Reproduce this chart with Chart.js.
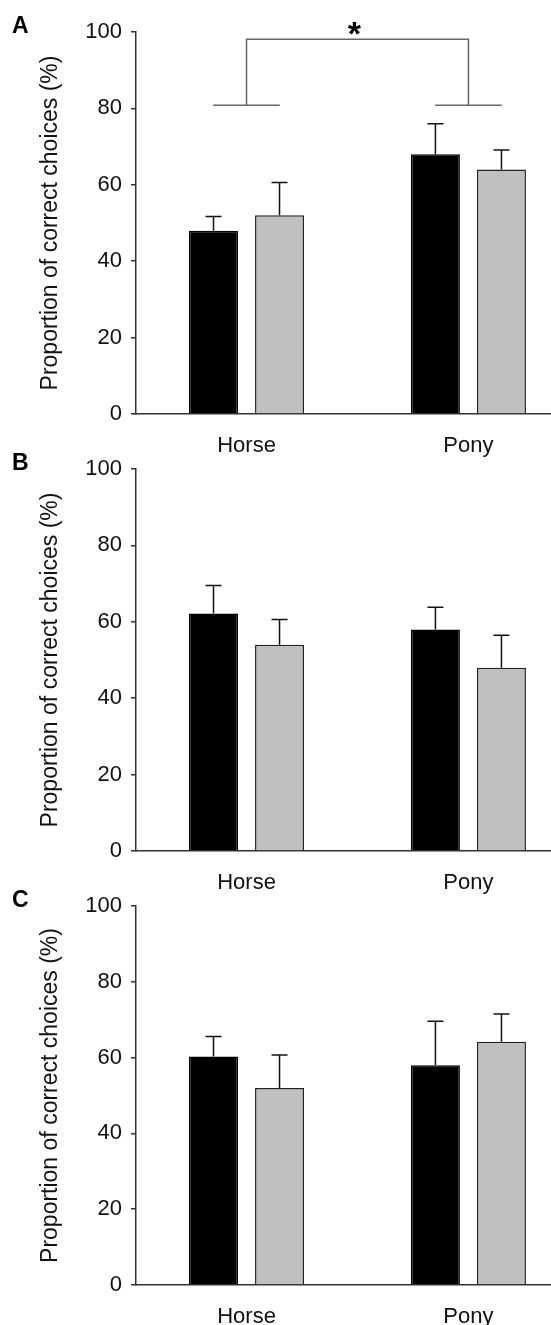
<!DOCTYPE html>
<html>
<head>
<meta charset="utf-8">
<script src="https://cdn.jsdelivr.net/npm/chart.js@4.4.1/dist/chart.umd.min.js"></script>
<style>
  html, body { margin: 0; padding: 0; background: #fff; }
  #wrap { position: relative; width: 551px; height: 1325px; overflow: hidden; }
  .panel { position: absolute; left: 0; width: 551px; }
  .letter { position: absolute; left: 12px; font: bold 23px/23px "Liberation Sans", Arial, sans-serif; color: #000; }
</style>
</head>
<body>
<div id="wrap">
  <div class="panel" style="top:0;height:470px"><canvas id="chartA"></canvas></div>
  <div class="panel" style="top:437px;height:470px"><canvas id="chartB"></canvas></div>
  <div class="panel" style="top:874px;height:451px"><canvas id="chartC"></canvas></div>
  <div class="letter" style="top:14px">A</div>
  <div class="letter" style="top:451px">B</div>
  <div class="letter" style="top:888px">C</div>
</div>
<script>
const categories = ['Horse', 'Pony'];
const yTitle = 'Proportion of correct choices (%)';

// panel A
const blackA = [48, 68];
const blackErrA = [3.7, 8.0];
const greyA = [52, 64];
const greyErrA = [8.6, 5.1];
// panel B
const blackB = [62.2, 58];
const blackErrB = [7.3, 5.8];
const greyB = [54, 48];
const greyErrB = [6.6, 8.5];
// panel C
const blackC = [60.3, 58];
const blackErrC = [5.3, 11.6];
const greyC = [52, 64.2];
const greyErrC = [8.7, 7.3];

// significance bracket in A: foot level, top level
const sigLevels = [80.8, 98.1];
const sigLabel = '*';

const FONT = '"Liberation Sans", Arial, sans-serif';

const errorBars = {
  id: 'errorBars',
  afterDatasetsDraw(chart) {
    const ctx = chart.ctx, y = chart.scales.y;
    ctx.save();
    ctx.strokeStyle = '#111';
    ctx.lineWidth = 1.5;
    chart.data.datasets.forEach((ds, di) => {
      chart.getDatasetMeta(di).data.forEach((bar, i) => {
        const top = y.getPixelForValue(ds.data[i].y + ds.errors[i]);
        ctx.beginPath();
        ctx.moveTo(bar.x, bar.y);
        ctx.lineTo(bar.x, top);
        ctx.moveTo(bar.x - 8, top);
        ctx.lineTo(bar.x + 8, top);
        ctx.stroke();
      });
    });
    ctx.restore();
  }
};

const bracket = {
  id: 'bracket',
  afterDatasetsDraw(chart) {
    const ctx = chart.ctx, x = chart.scales.x, y = chart.scales.y;
    const foot = y.getPixelForValue(sigLevels[0]);
    const top = y.getPixelForValue(sigLevels[1]);
    const x0 = x.getPixelForValue(0), x1 = x.getPixelForValue(1);
    const half = x.getPixelForValue(0.15) - x0;
    ctx.save();
    ctx.strokeStyle = '#666';
    ctx.lineWidth = 1.5;
    ctx.beginPath();
    ctx.moveTo(x0 - half, foot); ctx.lineTo(x0 + half, foot);
    ctx.moveTo(x1 - half, foot); ctx.lineTo(x1 + half, foot);
    ctx.moveTo(x0, foot); ctx.lineTo(x0, top); ctx.lineTo(x1, top); ctx.lineTo(x1, foot);
    ctx.stroke();
    ctx.fillStyle = '#000';
    ctx.font = 'bold 34px ' + FONT;
    ctx.textAlign = 'center';
    ctx.textBaseline = 'alphabetic';
    ctx.fillText(sigLabel, (x0 + x1) / 2 - 3, top + 6);
    ctx.restore();
  }
};

function makePanel(id, black, blackErr, grey, greyErr, xHeight, extra) {
  const ctx = document.getElementById(id).getContext('2d');
  return new Chart(ctx, {
    type: 'bar',
    data: {
      datasets: [
        {data: black.map((v, i) => ({x: i, y: v})), errors: blackErr,
         backgroundColor: '#000', borderColor: '#000', borderWidth: 1.5},
        {data: grey.map((v, i) => ({x: i, y: v})), errors: greyErr,
         backgroundColor: '#c0c0c0', borderColor: '#222', borderWidth: 1.5}
      ]
    },
    options: {
      responsive: true,
      maintainAspectRatio: false,
      animation: false,
      devicePixelRatio: 1,
      layout: {padding: {top: 32, left: 0, right: 0, bottom: 0}},
      barPercentage: 0.742,
      categoryPercentage: 0.595,
      plugins: {legend: {display: false}, tooltip: {enabled: false}},
      scales: {
        x: {
          type: 'linear', offset: false, min: -0.498, max: 1.372,
          afterBuildTicks: s => { s.ticks = categories.map((c, i) => ({value: i})); },
          afterFit: s => { s.height = xHeight; },
          ticks: {callback: v => categories[v], color: '#111', padding: 19, font: {family: FONT, size: 22}},
          grid: {display: false, drawTicks: false},
          border: {display: true, color: '#333', width: 1.5}
        },
        y: {
          min: 0, max: 100,
          afterFit: s => { s.width = 136; },
          ticks: {stepSize: 20, color: '#111', padding: 9, font: {family: FONT, size: 22}},
          grid: {drawOnChartArea: false, drawTicks: true, tickLength: 5, color: '#333', lineWidth: 1.5},
          border: {display: true, color: '#333', width: 1.5},
          title: {display: true, text: yTitle, color: '#111', padding: {top: 37, bottom: 0}, font: {family: FONT, size: 23}}
        }
      }
    },
    plugins: [errorBars].concat(extra || [])
  });
}

makePanel('chartA', blackA, blackErrA, greyA, greyErrA, 56, [bracket]);
makePanel('chartB', blackB, blackErrB, greyB, greyErrB, 56);
makePanel('chartC', blackC, blackErrC, greyC, greyErrC, 40);
</script>
</body>
</html>
